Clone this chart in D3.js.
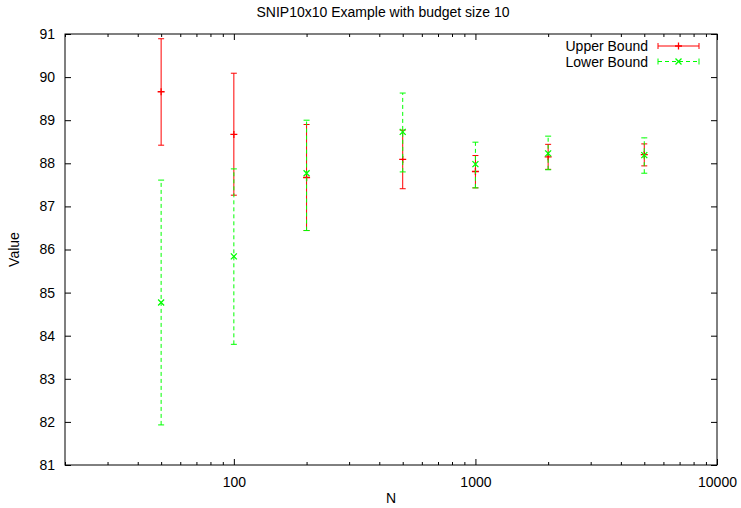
<!DOCTYPE html>
<html>
<head>
<meta charset="utf-8">
<script src="https://cdn.jsdelivr.net/npm/d3@7"></script>
<style>
  body { margin: 0; background: #fff; }
  svg { display: block; font-family: "Liberation Sans", Arial, sans-serif; }
</style>
</head>
<body>
<svg id="chart" width="741" height="508"></svg>
<script>
// données
const nValues = [50, 100, 200, 500, 1000, 2000, 5000];

const upperMid = [89.66, 88.67, 87.67, 88.09, 87.81, 88.15, 88.20];
const upperLow = [88.42, 87.26, 86.44, 87.41, 87.43, 87.86, 87.94];
const upperHigh = [90.89, 90.09, 88.90, 88.77, 88.18, 88.44, 88.45];

const lowerMid = [84.77, 85.84, 87.77, 88.73, 87.98, 88.23, 88.19];
const lowerLow = [81.93, 83.80, 86.44, 87.80, 87.43, 87.85, 87.77];
const lowerHigh = [87.61, 87.87, 89.00, 89.63, 88.49, 88.63, 88.59];

const yTicks = [81, 82, 83, 84, 85, 86, 87, 88, 89, 90, 91];
const xMajor = [100, 1000, 10000];
const xMinor = [20, 30, 40, 50, 60, 70, 80, 90, 200, 300, 400, 500, 600, 700, 800, 900,
    2000, 3000, 4000, 5000, 6000, 7000, 8000, 9000];

const fontSize = 14;

const margin = { top: 34, right: 24, bottom: 43, left: 65 },
    width = 741 - margin.left - margin.right,
    height = 508 - margin.top - margin.bottom;

const svg = d3.select("#chart");
const g = svg.append("g")
    .attr("transform", `translate(${margin.left},${margin.top})`);

const x = d3.scaleLog()
    .domain([20, 10000])
    .range([0, width]);

const y = d3.scaleLinear()
    .domain([81, 91])
    .range([height, 0]);

//Axes (ticks vers l'intérieur, comme gnuplot)
g.append("g")
    .attr("transform", `translate(0,${height})`)
    .call(d3.axisBottom(x).tickValues(xMajor).tickSize(-6).tickPadding(12).tickFormat(d3.format("d")))
    .call(a => a.select(".domain").remove());
g.append("g")
    .attr("transform", `translate(0,${height})`)
    .call(d3.axisBottom(x).tickValues(xMinor).tickSize(-3).tickFormat(""))
    .call(a => a.select(".domain").remove());
g.append("g")
    .call(d3.axisTop(x).tickValues(xMajor).tickSize(-6).tickFormat(""))
    .call(a => a.select(".domain").remove());
g.append("g")
    .call(d3.axisTop(x).tickValues(xMinor).tickSize(-3).tickFormat(""))
    .call(a => a.select(".domain").remove());

g.append("g")
    .call(d3.axisLeft(y).tickValues(yTicks).tickSize(-6).tickPadding(10).tickFormat(d3.format("d")))
    .call(a => a.select(".domain").remove());
g.append("g")
    .attr("transform", `translate(${width},0)`)
    .call(d3.axisRight(y).tickValues(yTicks).tickSize(-6).tickFormat(""))
    .call(a => a.select(".domain").remove());

g.selectAll(".tick text")
    .attr("font-family", "Liberation Sans, Arial, sans-serif")
    .attr("font-size", fontSize)
    .attr("fill", "#000");
g.selectAll(".tick line").attr("stroke", "#000");

g.append("rect")
    .attr("width", width)
    .attr("height", height)
    .attr("fill", "none")
    .attr("stroke", "#000")
    .attr("stroke-width", 1);

// titres
svg.append("text")
    .attr("x", 383)
    .attr("y", 17)
    .attr("text-anchor", "middle")
    .attr("font-size", fontSize)
    .text("SNIP10x10 Example with budget size 10");

svg.append("text")
    .attr("x", margin.left + width / 2)
    .attr("y", 503)
    .attr("text-anchor", "middle")
    .attr("font-size", fontSize)
    .text("N");

svg.append("text")
    .attr("transform", `translate(19,${margin.top + height / 2}) rotate(-90)`)
    .attr("text-anchor", "middle")
    .attr("font-size", fontSize)
    .text("Value");

//Séries
const series = [
    { name: "Upper Bound", mid: upperMid, low: upperLow, high: upperHigh, color: "#ff0000", dash: null, marker: "plus" },
    { name: "Lower Bound", mid: lowerMid, low: lowerLow, high: lowerHigh, color: "#00ff00", dash: "4,3", marker: "cross" }
];

function drawMarker(sel, type, cx, cy, color) {
    const s = type === "plus" ? 3.5 : 3;
    const path = type === "plus"
        ? `M${cx - s},${cy}H${cx + s}M${cx},${cy - s}V${cy + s}`
        : `M${cx - s},${cy - s}L${cx + s},${cy + s}M${cx - s},${cy + s}L${cx + s},${cy - s}`;
    sel.append("path")
        .attr("d", path)
        .attr("stroke", color)
        .attr("stroke-width", 1.3)
        .attr("fill", "none");
}

series.forEach(s => {
    const sg = g.append("g");
    const data = nValues.map((n, i) => ({ n: n, mid: s.mid[i], low: s.low[i], high: s.high[i] }));

    sg.selectAll("line.bar")
        .data(data)
        .enter()
        .append("line")
        .attr("x1", d => x(d.n))
        .attr("x2", d => x(d.n))
        .attr("y1", d => y(d.low))
        .attr("y2", d => y(d.high))
        .attr("stroke", s.color)
        .attr("stroke-dasharray", s.dash);

    ["low", "high"].forEach(k => {
        sg.selectAll("line.cap-" + k)
            .data(data)
            .enter()
            .append("line")
            .attr("x1", d => x(d.n) - 3)
            .attr("x2", d => x(d.n) + 3)
            .attr("y1", d => y(d[k]))
            .attr("y2", d => y(d[k]))
            .attr("stroke", s.color);
    });

    data.forEach(d => drawMarker(sg, s.marker, x(d.n), y(d.mid), s.color));
});

//Légende
series.forEach((s, i) => {
    const ly = 46 + i * 15.5;
    svg.append("text")
        .attr("x", 648)
        .attr("y", ly + 5)
        .attr("text-anchor", "end")
        .attr("font-size", fontSize)
        .text(s.name);
    const x1 = 658, x2 = 699;
    svg.append("line")
        .attr("x1", x1).attr("x2", x2)
        .attr("y1", ly).attr("y2", ly)
        .attr("stroke", s.color)
        .attr("stroke-dasharray", s.dash);
    [x1, x2].forEach(cx => {
        svg.append("line")
            .attr("x1", cx).attr("x2", cx)
            .attr("y1", ly - 3).attr("y2", ly + 3)
            .attr("stroke", s.color);
    });
    drawMarker(svg, s.marker, (x1 + x2) / 2, ly, s.color);
});
</script>
</body>
</html>
